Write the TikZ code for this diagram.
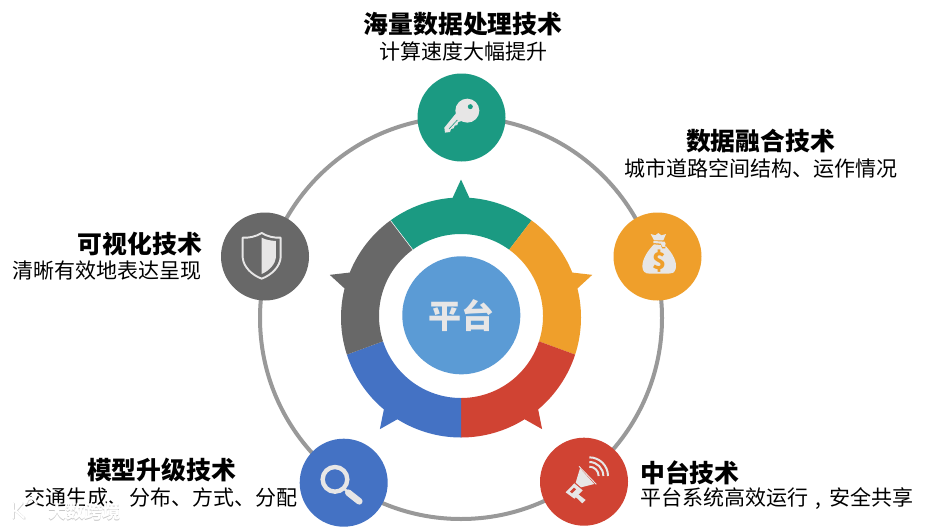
\documentclass[tikz,border=0pt]{standalone}
\usepackage{fontspec}
\setmainfont{Noto Sans CJK SC}
\usetikzlibrary{calc}
\definecolor{cgreen}{HTML}{1B9A82}
\definecolor{corange}{HTML}{EF9F2B}
\definecolor{cred}{HTML}{D04333}
\definecolor{cblue}{HTML}{4472C4}
\definecolor{cgray}{HTML}{686868}
\definecolor{ccentre}{HTML}{5B9BD5}
\definecolor{cicon}{HTML}{E7E6E6}
\definecolor{cring}{HTML}{999999}
\tikzset{
  badge/.style={circle,minimum size=88pt,inner sep=0pt,fill=#1},
  titlelabel/.style={inner sep=0pt,font=\fontsize{24.8}{26}\selectfont\bfseries,text=black},
  sublabel/.style={inner sep=0pt,font=\fontsize{21}{23}\selectfont,text=black},
  icon/.style={fill=cicon,draw=none},
  wmark/.style={inner sep=0pt,font=\fontsize{18}{20}\selectfont\bfseries},
}
\begin{document}
\begin{tikzpicture}[x=1pt,y=-1pt]
\useasboundingbox[fill=white] (0,0) rectangle (925,527);
% outer ring
\draw[cring,line width=4pt] (461,318) circle[radius=201];
% ring segments, in a scope whose y axis points up so that angles read normally
\begin{scope}[y=1pt,x=1pt]
  \def\cx{461}\def\cy{-317.5}\def\ci{-316}
  \foreach \a/\b/\t/\c in {126/54/90/cgreen,54/-18/18/corange,-18/-90/-54/cred,-90/-162/-126/cblue,198/126/162/cgray}{
    \pgfmathsetmacro{\tl}{\t+4}\pgfmathsetmacro{\tr}{\t-4}
    \fill[\c] ($(\cx,\cy)+(\a:120)$) arc[start angle=\a,end angle=\tl,radius=120]
      -- ($(\cx,\cy)+(\t:138)$) -- ($(\cx,\cy)+(\tr:120)$)
      arc[start angle=\tr,end angle=\b,radius=120]
      -- ($(\cx,\ci)+(\b:82)$) arc[start angle=\b,end angle=\a,radius=82] -- cycle;
  }
  \draw[white,line width=.5pt] ($(\cx,\cy)+(126:120)$) -- ($(\cx,\ci)+(126:82)$);
\end{scope}
% badges
\node[badge=cgreen]  (top)   at (461.5,117.5) {};
\node[badge=corange] (right) at (657.5,256.5) {};
\node[badge=cgray]   (left)  at (265,256.5) {};
\node[badge=cblue]   (bl)    at (343.7,482.7) {};
\node[badge=cred]    (br)    at (584,481.7) {};
% centre
\node[circle,minimum size=118pt,inner sep=0pt,fill=ccentre,text=cicon,font=\fontsize{33}{34}\selectfont\bfseries] (hub) at (461.3,315.3) {平台};
% key
\begin{scope}[shift={(400,60)},x=.3333pt,y=-.3333pt]
  \fill[icon] (202,152) circle[radius=36];
  \fill[icon] (168,160) -- (133,203) -- (135,218) -- (150,216) -- (153,207) -- (161,205) -- (164,197) -- (172,195) -- (175,186) -- (195,180) -- cycle;
  \fill[cgreen] (211,140) circle[radius=7.5];
  \draw[cgreen,line width=.6pt] (147,207) -- (172,180);
\end{scope}
% money bag
\begin{scope}[shift={(630,225)},x=.3333pt,y=-.3333pt]
  \fill[icon] (62,27) -- (76,31) -- (85,24) -- (94,31) -- (108,27) -- (100,46) -- (72,46) -- cycle;
  \fill[icon] (70,48) -- (104,50) -- (107,56) -- (104,66) -- (96,65) -- (93,56) -- (70,54) -- cycle;
  \fill[icon] (72,58) -- (92,60) -- (96,70) -- (106,70) -- (106,62)
     .. controls (128,85) and (142,110) .. (137,132) .. controls (133,145) and (125,146) .. (115,146)
     -- (60,146) .. controls (45,146) and (38,140) .. (37,125) .. controls (37,100) and (55,75) .. (72,58) -- cycle;
  \node[inner sep=0pt,text=corange,font=\fontsize{23}{24}\selectfont\bfseries] (dollar) at (87,107) {\$};
\end{scope}
% shield
\begin{scope}[shift={(210,200)},x=.3333pt,y=-.3333pt]
  \draw[cicon,line width=1.9pt,line join=round] (155,99) .. controls (137,110) and (118,114) .. (98,113) -- (98,172)
     .. controls (100,200) and (125,225) .. (155,236) .. controls (185,225) and (210,200) .. (212,172) -- (212,113)
     .. controls (192,114) and (173,110) .. (155,99) -- cycle;
  \fill[cicon] (155,113) .. controls (168,120) and (182,122) .. (198,123) -- (198,172)
     .. controls (196,192) and (178,212) .. (155,222) -- cycle;
\end{scope}
% magnifier
\begin{scope}[shift={(0,430)},x=.3333pt,y=-.3333pt]
  \draw[cicon,line width=4.4pt] (1005,148) circle[radius=37];
  \draw[cicon,line width=2.6pt] (1032,175) -- (1045,188);
  \draw[cicon,line width=6.6pt,line cap=round] (1045,188) -- (1078,214);
\end{scope}
% megaphone
\begin{scope}[shift={(555,450)},x=.3333pt,y=-.3333pt]
  \fill[icon] (75,55) -- (118,102) -- (78,112) -- (62,98) -- cycle;
  \draw[cicon,line width=.9pt] (72,49) -- (124,103);
  \fill[icon] (32,127) -- (58,100) -- (83,121) -- (58,146) -- cycle;
  \fill[icon] (62,141) -- (70,133) -- (92,150) -- (82,160) -- cycle;
  \fill[cred] (45,125) -- (57,113) -- (63,118) -- (51,130) -- cycle;
  \draw[cicon,line width=2pt] (103,50) arc[start angle=-90,end angle=0,radius=28];
  \draw[cicon,line width=2pt] (103,36) arc[start angle=-90,end angle=0,radius=42];
  \draw[cicon,line width=2pt] (103,22) arc[start angle=-90,end angle=0,radius=56];
\end{scope}
% labels
\node[titlelabel] (t1) at (463,24) {海量数据处理技术};
\node[sublabel]   (s1) at (463,51) {计算速度大幅提升};
\node[titlelabel] (t2) at (760.5,141) {数据融合技术};
\node[sublabel]   (s2) at (760.5,168) {城市道路空间结构、运作情况};
\node[titlelabel,anchor=east] (t3) at (202,244) {可视化技术};
\node[sublabel,anchor=east]   (s3) at (202,271) {清晰有效地表达呈现};
\node[titlelabel] (t4) at (161.5,470) {模型升级技术};
\node[sublabel]   (s4) at (161,497) {交通生成、分布、方式、分配};
\node[titlelabel,anchor=west] (t5) at (640,473) {中台技术};
\node[sublabel,anchor=west]   (s5) at (640,499) {平台系统高效运行\makebox[21pt][c]{,}安全共享};
% watermark
\node[wmark,text=black!22] (wm0) at (84.7,512.7) {大数跨境};
\node[wmark,text=white] (wm) at (84,512) {大数跨境};
\draw[black!18,line width=2.4pt,line cap=round,shift={(.6,.6)}] (13,503) -- (13,518) (15,511) -- (22,503) (16,511) -- (24,518);
\draw[white,line width=2pt,line cap=round] (13,503) -- (13,518) (15,511) -- (22,503) (16,511) -- (24,518);
\draw[black!18,line width=2.4pt,line cap=round,shift={(.6,.6)}] (26,503) arc[start angle=180,end angle=360,radius=5];
\draw[white,line width=2pt,line cap=round] (26,503) arc[start angle=180,end angle=360,radius=5];
\end{tikzpicture}
\end{document}
